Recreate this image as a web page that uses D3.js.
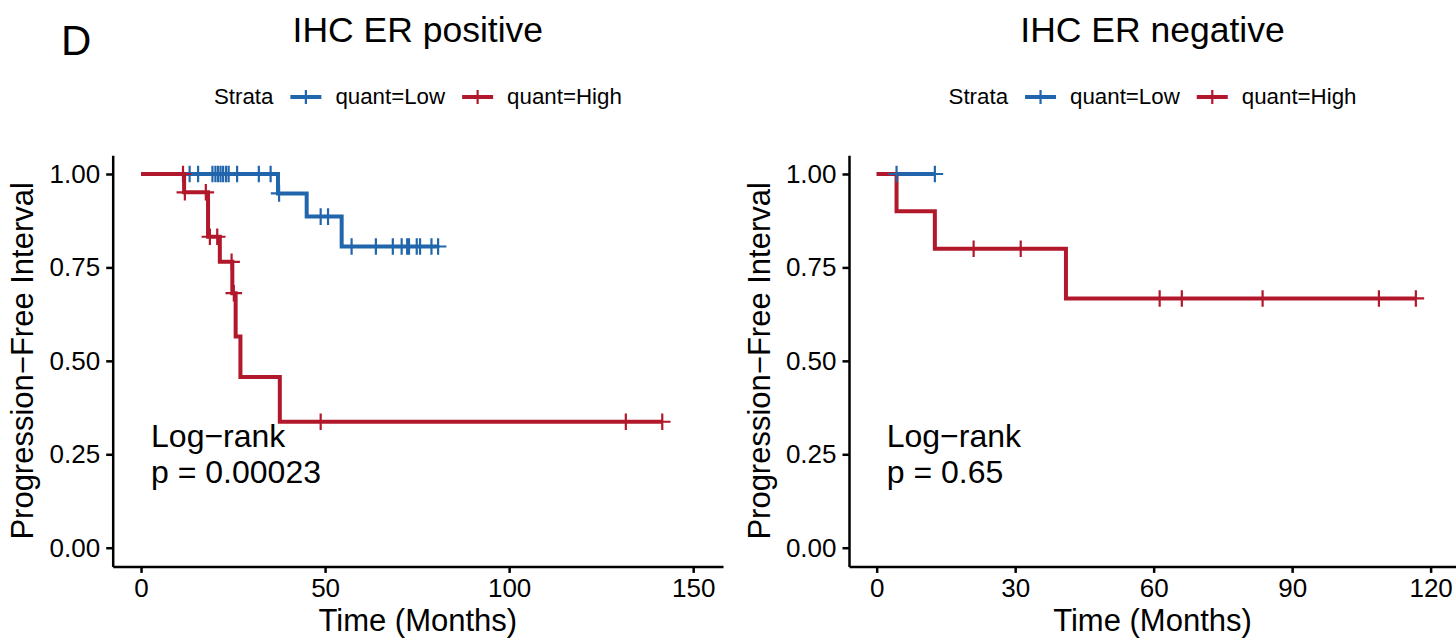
<!DOCTYPE html>
<html>
<head>
<meta charset="utf-8">
<script src="https://cdn.jsdelivr.net/npm/d3@7"></script>
<style>
  html, body { margin: 0; padding: 0; background: #fff; }
  svg { display: block; font-family: "Liberation Sans", Arial, Helvetica, sans-serif; }
</style>
</head>
<body>
<svg id="chart" width="1456" height="641"></svg>
<script>
// ---------- data ----------
const panelTitles = ["IHC ER positive", "IHC ER negative"];
const strataLabels = ["quant=Low", "quant=High"];
const strataColors = ["#2166AC", "#B2182B"];
const pValues = ["p = 0.00023", "p = 0.65"];

const posXTicks = [0, 50, 100, 150];
const negXTicks = [0, 30, 60, 90, 120];
const yTicks = [0, 0.25, 0.5, 0.75, 1];

// ER positive, quant=Low
const posLowTimes = [0, 37.2, 45.0, 54.5];
const posLowSurv = [1, 0.948, 0.886, 0.806];
const posLowCensor = [13.2, 15.5, 19.4, 20.2, 20.9, 21.6, 22.3, 23.1, 23.8, 26.1, 32.0, 35.2, 37.5,
                      48.8, 50.8, 57.2, 63.8, 68.4, 70.8, 72.3, 72.8, 74.9, 75.8, 78.9, 80.7];
// ER positive, quant=High
const posHighTimes = [0, 11.7, 18.2, 21.4, 24.8, 25.7, 27.0, 37.7];
const posHighSurv = [1, 0.951, 0.832, 0.765, 0.681, 0.565, 0.457, 0.337];
const posHighCensor = [11.4, 11.9, 17.6, 18.7, 20.7, 24.6, 25.2, 48.8, 131.7, 141.6];

// ER negative, quant=Low
const negLowTimes = [0];
const negLowSurv = [1];
const negLowCensor = [4.3, 12.6];
// ER negative, quant=High
const negHighTimes = [0, 4.3, 12.6, 41.0];
const negHighSurv = [1, 0.9, 0.8, 0.667];
const negHighCensor = [21.0, 31.2, 61.3, 66.1, 83.6, 108.8, 116.8];

// ---------- layout ----------
const svg = d3.select("#chart");
const panels = [
  { title: panelTitles[0], pval: pValues[0], xTicks: posXTicks, xDomain: [-7.7, 158.1], xRange: [112.7, 723],
    curves: [
      { times: posLowTimes, surv: posLowSurv, censor: posLowCensor, color: strataColors[0] },
      { times: posHighTimes, surv: posHighSurv, censor: posHighCensor, color: strataColors[1] } ] },
  { title: panelTitles[1], pval: pValues[1], xTicks: negXTicks, xDomain: [-6.0, 125.5], xRange: [849, 1456],
    curves: [
      { times: negLowTimes, surv: negLowSurv, censor: negLowCensor, color: strataColors[0] },
      { times: negHighTimes, surv: negHighSurv, censor: negHighCensor, color: strataColors[1] } ] }
];

const y = d3.scaleLinear().domain([-0.05, 1.05]).range([566.4, 155.3]);

svg.append("text").attr("x", 61).attr("y", 55).attr("font-size", 42).text("D");

function survAt(c, t) {
  let s = c.surv[0];
  for (let i = 0; i < c.times.length; i++) if (c.times[i] <= t) s = c.surv[i];
  return s;
}

panels.forEach((p, pi) => {
  const x = d3.scaleLinear().domain(p.xDomain).range(p.xRange);
  const g = svg.append("g");
  const cx = (p.xRange[0] + p.xRange[1]) / 2;

  // title
  g.append("text").attr("x", cx).attr("y", 41.5).attr("text-anchor", "middle")
    .attr("font-size", 35.5).text(p.title);

  // legend
  const lg = g.append("g");
  let pos = 0;
  const strata = lg.append("text").attr("x", pos).attr("y", 104).attr("font-size", 22.3).text("Strata");
  pos += strata.node().getComputedTextLength() + 17;
  strataLabels.forEach((lab, i) => {
    lg.append("line").attr("x1", pos).attr("x2", pos + 31).attr("y1", 97).attr("y2", 97)
      .attr("stroke", strataColors[i]).attr("stroke-width", 4);
    lg.append("line").attr("x1", pos + 15.5).attr("x2", pos + 15.5).attr("y1", 90).attr("y2", 104)
      .attr("stroke", strataColors[i]).attr("stroke-width", 2.2);
    pos += 31 + 14;
    const t = lg.append("text").attr("x", pos).attr("y", 104).attr("font-size", 22.3).text(lab);
    pos += t.node().getComputedTextLength() + (i === 0 ? 17 : 0);
  });
  lg.attr("transform", `translate(${cx - pos / 2},0)`);

  // axes
  const ya = g.append("g").attr("transform", `translate(${p.xRange[0]},0)`)
    .call(d3.axisLeft(y).tickValues(yTicks).tickFormat(d3.format(".2f")).tickSize(6.5).tickSizeOuter(0).tickPadding(6));
  const xa = g.append("g").attr("transform", `translate(0,${y.range()[0]})`)
    .call(d3.axisBottom(x).tickValues(p.xTicks).tickSize(6.5).tickSizeOuter(0).tickPadding(6));
  [ya, xa].forEach(a => {
    a.select(".domain").attr("stroke", "#000").attr("stroke-width", 2.5);
    a.selectAll(".tick line").attr("stroke", "#000").attr("stroke-width", 2.5);
    a.selectAll(".tick text").attr("fill", "#000").attr("font-size", 26)
      .attr("font-family", '"Liberation Sans", Arial, Helvetica, sans-serif');
  });

  // axis titles
  g.append("text").attr("x", cx).attr("y", 631).attr("text-anchor", "middle")
    .attr("font-size", 31).text("Time (Months)");
  g.append("text").attr("transform", `translate(${p.xRange[0] - 79.5},${(y(1.05) + y(-0.05)) / 2}) rotate(-90)`)
    .attr("text-anchor", "middle").attr("font-size", 31).text("Progression\u2212Free Interval");

  // step lines
  const line = d3.line().x(d => x(d[0])).y(d => y(d[1])).curve(d3.curveStepAfter);
  p.curves.forEach(c => {
    const pts = c.times.map((t, i) => [t, c.surv[i]]);
    const tEnd = Math.max(d3.max(c.censor), d3.max(c.times));
    pts.push([tEnd, c.surv[c.surv.length - 1]]);
    g.append("path").attr("d", line(pts)).attr("fill", "none")
      .attr("stroke", c.color).attr("stroke-width", 4).attr("stroke-linejoin", "miter");
  });
  // censor marks
  p.curves.forEach(c => {
    c.censor.forEach(t => {
      const px = x(t), py = y(survAt(c, t));
      g.append("path").attr("d", `M${px - 8.3},${py}H${px + 8.3}M${px},${py - 8.3}V${py + 8.3}`)
        .attr("stroke", c.color).attr("stroke-width", 2.2).attr("fill", "none");
    });
  });

  // log-rank annotation
  const ax = x(0) + 10;
  g.append("text").attr("x", ax).attr("y", 447.3).attr("font-size", 32).text("Log\u2212rank");
  g.append("text").attr("x", ax).attr("y", 483.3).attr("font-size", 32).text(p.pval);
});
</script>
</body>
</html>
